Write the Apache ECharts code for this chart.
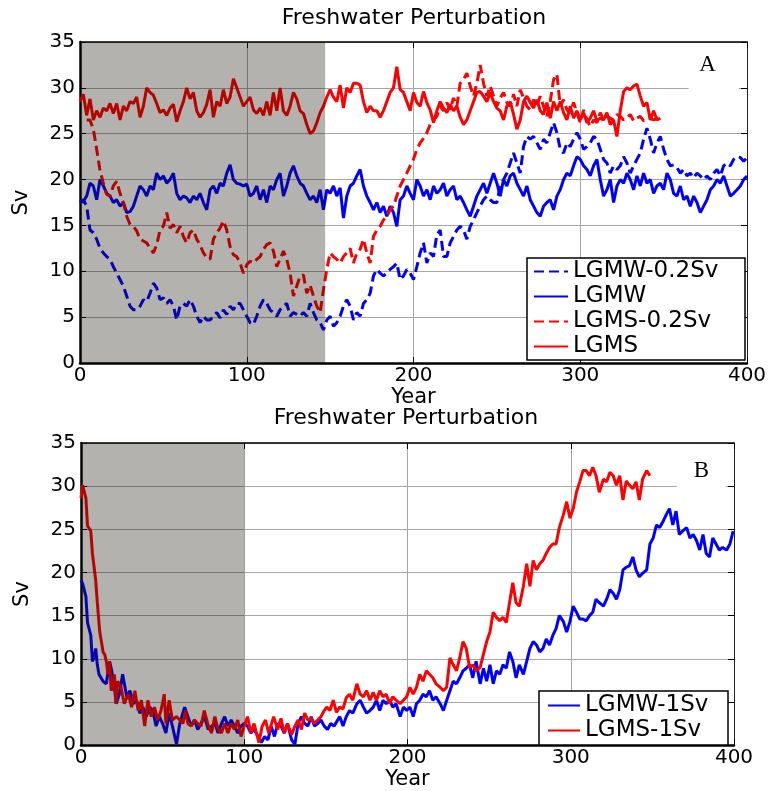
<!DOCTYPE html>
<html>
<head>
<meta charset="utf-8">
<script src="https://cdn.jsdelivr.net/npm/echarts@6/dist/echarts.min.js"></script>
<style>
  html, body { margin: 0; padding: 0; background: #fff; }
  #main-chart { width: 770px; height: 791px; }
</style>
</head>
<body>
<div id="main-chart"></div>
<script>
// axis ticks
const xTicks = [0, 100, 200, 300, 400]
const yTicks = [0, 5, 10, 15, 20, 25, 30, 35]

// panel A: samples every 2 years, starting at the given year
const A_STEP = 2
const lgmw02Start = 0
const lgmw02 = [
  17.5, 17.8, 17.1, 14.5, 14.2, 13.5, 12.5, 12, 11.6, 11.3,
  10.5, 9.8, 9.1, 8.4, 7.3, 6.2, 5.8, 5.8, 6.2, 6.9,
  6.7, 7.6, 8.7, 8.2, 6.9, 7.1, 6.5, 6.9, 6.2, 4.7,
  6.2, 6.5, 6.2, 6.9, 6.2, 5.1, 4.4, 5.1, 4.7, 4.7,
  5.1, 5.5, 4.9, 5.8, 5.3, 6.2, 5.8, 6.5, 6.5, 5.8,
  5.1, 4.4, 4.2, 5.1, 6.2, 6.9, 6.5, 5.8, 5.5, 5.1,
  5.8, 6.2, 6.5, 5.1, 5.5, 5.3, 5.1, 5.5, 5.1, 6.5,
  5.5, 4.7,
  4.4, 3.6, 4.7, 5.1, 4, 4.4, 5.1, 6.2, 6.9, 6.2,
  4.7, 5.5, 5.1, 6.5, 6.9, 7.6, 9.5, 10.2, 9.8, 9.5,
  9.8, 10.2, 10.5, 10.9, 9.1, 9.5, 10.2, 9.8, 9.1, 10.5,
  12, 13.1, 10.9, 12, 11.6, 14, 14.5, 11.6, 11.6, 13.1,
  13.8, 14.5, 14.9, 14.5, 13.5, 14.9, 15.6, 16.4, 17.1, 17.8,
  18.2, 17.8, 17.5, 17.5, 19.3, 20, 20.7, 21.8, 22.9, 21.8,
  20.7, 23.6, 24.7, 24.4, 24.7, 24, 23.3, 24.4, 24, 25.1,
  26.2, 25.1, 23.3, 22.9, 24, 23.6, 24.4, 25.1, 24.4, 23.3,
  23.6, 24, 24.7, 24.4, 23.3, 22.2, 21.8, 20.7, 21.5, 21.1,
  21.5, 22.5, 21.8, 20.7, 21.5, 22.2, 22.9, 24.4, 25.6, 24.4,
  22.9, 24, 24.7, 23.3, 22.2, 21.5, 21.6, 21.3, 20.7, 21.1,
  20.4, 20.7, 20.2, 20.7, 20.4, 20, 20.4, 20, 20.7, 21.1,
  20.4, 21.5, 21.8, 21.5, 22.2, 22.5, 22.4, 22, 22.4
]
const lgmwStart = 0
const lgmw = [
  17.5, 17.6, 18.2, 19.6, 19.3, 17.8, 20, 19.3, 18.5, 18.2,
  17.5, 17.8, 17.1, 17.5, 16.4, 16.5, 17.1, 18.2, 19.3, 18.9,
  18.2, 19.3, 18.9, 20.7, 20, 20.4, 19.6, 20, 20.7, 18.5,
  17.8, 18.2, 18, 17.5, 18.2, 17.8, 18.5, 17.5, 16.7, 18.9,
  19.3, 18.5, 19.6, 19.3, 20.7, 21.6, 20, 19.6, 19.5, 19.3,
  19.5, 18.2, 18.5, 19.3, 17.8, 18.9, 17.5, 19.3, 18.9, 20,
  20.7, 18.2, 19.3, 20.7, 21.5, 20.4, 19.6, 19.3, 18.5, 17.8,
  18.2, 17.5,
  18.9, 16.7, 18.9, 18.5, 19.3, 18.2, 19.1, 15.8, 18.2, 19.3,
  19.6, 20.4, 21.1, 19.3, 18.2, 17.5, 16.7, 17.5, 16.4, 17.1,
  16, 17.1, 16.4, 14.9, 17.8, 18.2, 19.3, 18.5, 17.8, 20,
  19.3, 18.2, 18.9, 17.8, 19.3, 18.5, 18.9, 19.6, 18.2, 18.9,
  19.3, 17.8, 18.2, 17.5, 16.7, 16, 17.1, 18.2, 18.9, 19.6,
  18.5, 19.6, 20.7, 19.6, 18.2, 20, 19.3, 20.4, 20.7, 19.6,
  18.9, 18.2, 19.3, 17.8, 17.1, 16.4, 16, 17.1, 17.5, 17.8,
  16.7, 18.2, 18.9, 20, 20.7, 20.4, 21.5, 22.5, 22.2, 21.5,
  21.1, 20.4, 21.5, 22.2, 20, 18.2, 18.9, 20, 17.5, 19.3,
  20, 19.6, 20.7, 20, 18.9, 20.4, 19.3, 20.7, 19.6, 20,
  18.5, 19.3, 19.6, 18.9, 20.7, 20, 18.5, 18.2, 19.3, 17.8,
  18.2, 17.1, 18.2, 17.5, 16.4, 17.1, 17.8, 18.9, 19.3, 20,
  19.6, 20.4, 19.3, 18.2, 18.5, 18.9, 19.3, 20, 20.4
]
const lgms02Start = 4
const lgms02 = [
  26.5, 26.5, 25.5, 23.3, 21, 19.6, 18.4, 18.2, 19.3, 19.8,
  18.5, 17.5, 16, 15.1, 14.9, 14.4, 13.5, 13.3, 13.1, 12.5,
  12, 12.9, 14.5, 14.9, 16.4, 14.7, 15.1, 14.2, 14.9, 13.8,
  13.1, 14.2, 14.5, 13.5, 12.9, 12, 11.5, 11.3, 13.5, 14.2,
  14.7, 15.5, 14.5, 12.7, 11.8, 11.6, 10.9, 9.8, 10.7, 11.1,
  10.9, 11.3, 11.6, 12.4, 12.9, 13.1, 12.2, 10.5, 11.3, 12.2,
  11.3, 9.8, 7.3, 8.4, 9.5, 9.6, 7.6, 8.5, 7.3, 6.2,
  5.5, 8, 10.2, 12, 11.6, 11.3, 10.9, 11.6, 12, 12.5,
  10.9, 12, 12.4, 13.5, 12, 10.9, 13.8, 14.5, 14.9, 15.6,
  16, 16.7, 17.1, 18.2, 19.3, 20, 20.7, 21.5, 22.2, 23.3,
  24, 24.5, 25.1, 26, 26.5, 26.9, 28, 27.5, 28.4, 27.6,
  28.9, 28, 30.5, 30.9, 31.6, 30.2, 29.1, 30.5, 32.5, 30.5,
  29.1, 30.2, 29.1, 28, 28.9, 29.5, 28.4, 28, 29.3, 28,
  29.8, 28.9, 28, 27.6, 28.7, 28, 29.1, 28, 26.9, 28.5,
  30.9, 31.5, 28, 28.7, 27.6, 27.3, 28.4, 27.3, 26.2, 27.6,
  26.5, 25.8, 26.5, 26.2, 27.3, 26.5, 26.9, 26.7, 26.5, 27.1,
  26.9, 26.5, 26.7, 27.1, 26.4, 26.7, 26.9, 26.4, 26.5, 26.7,
  26.5, 26.7, 26.7
]
const lgmsStart = 0
const lgms = [
  28.5, 29.3, 27, 28.8, 26.5, 27.5, 26.8, 27.8, 27.5, 28.3,
  27.2, 28.3, 26.5, 28, 27.5, 28.5, 28.3, 29, 26.8, 28,
  30, 29.5, 29.2, 28.3, 27.3, 27.6, 27, 27.8, 28.2, 26.3,
  27.5, 28.5, 30, 28.8, 29.5, 27.5, 26.8, 27.3, 28.2, 29.8,
  26.8, 28.5, 28, 29.8, 28.3, 29, 31, 30, 29, 28,
  28.5, 29, 27.6, 27.2, 27.8, 27, 28.5, 27, 29.5, 27.5,
  30, 27.5, 27, 28, 29.5, 28.8, 27.5, 27.2, 26, 25,
  25.3, 26.2,
  27.3, 28, 29, 29.8, 29, 28.5, 30.3, 27.8, 30, 29.5,
  30.5, 30.5, 30.3, 28.5, 27.3, 28, 27.5, 27.5, 26.8, 27.5,
  28.5, 29.5, 30, 32.3, 29.8, 29.5, 28.5, 27.5, 29.5, 28.4,
  28, 29.6, 28.4, 27.6, 26.2, 27.5, 28.5, 27.8, 27.3, 28.2,
  27.5, 28, 26.8, 26, 26.5, 27.5, 28.5, 29.5, 29.6, 29.1,
  28.5, 29.5, 28.5, 27.8, 27.5, 26.5, 28, 28.5, 27.1, 25.5,
  26.5, 28.5, 29.1, 28.4, 27.8, 28.7, 27.5, 27.1, 28.4, 26.7,
  28.5, 27.5, 28.5, 27.3, 26.5, 28, 26.7, 27.5, 26.5, 27.3,
  26.2, 26.7, 27.5, 26.4, 26.7, 26.5, 27.3, 26, 26.5, 24.7,
  27.5, 29.6, 30, 29.8, 30.2, 30.4, 29.1, 28, 28.4, 26.5,
  27.5, 26.5, 26.7
]

// panel B: [year, Sv]
const lgmw1 = [
  [0, 19.1], [1, 18.7], [3, 17.2], [4, 14.2], [6, 12.7], [7, 9.7], [8, 10.1], [9, 11.2],
  [10, 9.3], [11, 8.2], [12, 8.2], [13.5, 7.4], [15.5, 7.1], [17.5, 9.7], [18.5, 8.9],
  [20.5, 6.7], [21.5, 4.8], [23.5, 5.9], [25.5, 8.2], [28, 5.6], [30, 6.3], [32, 4.8],
  [34, 5.2], [36, 3.7], [38, 4.4], [40, 3.3], [42, 4.4], [44, 4], [46, 2.2], [48, 3.3],
  [50, 2.5], [52, 1.4], [54, 3.7], [56, 2.2], [58.5, 0.1], [60.5, 2.5], [63.5, 4.4],
  [65.5, 3.3], [67.5, 2.2], [69.5, 2.9], [71.5, 1.8], [73.5, 2.5], [75.5, 3.3], [78, 1.8],
  [80, 2.2], [82, 2.5], [84, 1.4], [86, 2.5], [88, 3.3], [90, 2.2], [92, 2.9], [94, 2.2],
  [96, 1.4], [98, 2.2], [100, 2.5], [102, 2.2], [104, 1.4], [106, 1.8], [108.5, 1.0],
  [110.5, 0.3], [112.5, 1.0], [114.5, 0.6], [116.5, 2.2], [118.5, 1.0], [120.5, 2.5],
  [122.5, 2.2], [124.5, 1.4], [126.5, 2.5], [129, 0.6], [131, 0.1], [133, 2.5], [135, 3.3],
  [137, 2.5], [139, 2.2], [141, 3.3], [143, 2.2], [145, 2.5], [147, 2.9], [149, 2.2],
  [151, 1.8], [153, 2.5], [155, 2.2], [158.5, 3.3], [160.5, 2.2], [162.5, 3.3], [164.5, 4.0],
  [166.5, 3.7], [169, 4.8], [171, 5.2], [173, 4.4], [175, 3.7], [177, 4.0], [179, 4.4],
  [181, 5.2], [183, 4.0], [185, 5.2], [187, 4.8], [189, 5.2], [191, 4.4], [193, 4.8],
  [195.5, 3.3], [197.5, 4.4], [199.5, 4.0], [201.5, 4.4], [203.5, 3.3], [205.5, 4.8],
  [207.5, 5.2], [209.5, 5.9], [211.5, 5.6], [213.5, 6.3], [215.5, 5.2], [217.5, 5.6],
  [220, 4.8], [222, 4.0], [224, 5.2], [226, 6.3], [228, 7.4], [230, 7.1], [232, 7.8],
  [234, 8.6], [236, 8.9], [238, 9.3], [240, 7.8], [242, 9.7], [244.5, 7.1], [246.5, 8.9],
  [248.5, 7.4], [250.5, 9.3], [252.5, 7.1], [254.5, 8.6], [256.5, 8.2], [258.5, 9.3],
  [260.5, 8.9], [262.5, 10.8], [264.5, 9.7], [266.5, 7.8], [268.5, 9.3], [271, 8.2],
  [273, 9.7], [275, 11.2], [277, 12.0], [279, 11.6], [281, 10.8], [283, 11.2], [285, 12.3],
  [287, 11.6], [289, 12.7], [291, 13.5], [293, 15.0], [295.5, 14.3], [297.5, 13.1],
  [299.5, 14.3], [301.5, 16.1], [303.5, 15.4], [305.5, 14.6], [307.5, 14.6], [309.5, 14.4],
  [311.5, 15.0], [313.5, 15.4], [315.5, 16.9], [317.5, 16.5], [320, 16.1], [322, 16.9],
  [324, 18.0], [326, 17.6], [328, 16.9], [330, 18.0], [332, 20.3], [334, 20.6], [336, 20.8],
  [338, 21.8], [340, 20.3], [342, 19.5], [344, 19.9], [346.5, 20.3], [348.5, 23.3],
  [350.5, 24.0], [352.5, 25.5], [354.5, 25.2], [356.5, 25.9], [358.5, 26.7], [360.5, 27.4],
  [362.5, 25.5], [364.5, 27.1], [366.5, 24.4], [368.5, 24.8], [371, 25.2], [373, 24.0],
  [375, 24.4], [377, 23.7], [379, 22.6], [381, 24.4], [383, 22.2], [385, 21.8], [387, 24.0],
  [389, 23.3], [391, 22.6], [393, 22.9], [395.5, 22.6], [397.5, 23.3], [399.5, 24.8]
]
const lgms1 = [
  [0, 28.6], [1, 30.1], [2, 30.1], [3, 28.6], [4, 25.4], [6, 24.8], [7, 22.2], [9, 19.1],
  [10, 16.5], [11.5, 13.1], [12.5, 12], [13.5, 10.8], [14.5, 10.5], [15.5, 9.7], [16.5, 8.2],
  [17.5, 9.7], [18.5, 6.3], [19.5, 6.7], [20.5, 8.2], [21.5, 4.8], [22.5, 7.4], [24.5, 6.7],
  [26.5, 4.8], [29, 5.9], [31, 4.4], [33, 6.3], [35, 4.0], [37, 5.2], [39, 2.2], [41, 5.2],
  [43, 3.3], [45, 4.4], [47, 2.9], [49, 4], [51, 5.9], [52, 2.5], [54, 5.2], [56, 2.9],
  [58.5, 3.3], [60.5, 2.9], [62.5, 2.5], [64, 4], [65.5, 2.5], [67.5, 2.2], [69.5, 2.9],
  [71.5, 2.5], [73.5, 2.2], [75.5, 4], [78, 2.2], [80, 1.4], [82, 3.3], [84, 1.8], [86, 1.4],
  [88, 2.5], [90, 1.4], [92, 2.5], [94, 1.8], [96, 2.9], [98, 1.0], [100, 2.2], [102, 3.3],
  [104, 1.4], [106, 2.5], [109, 0.3], [111, 2.2], [113, 2.9], [115, 1.4], [118, 3.3],
  [120.5, 1.8], [122.5, 3.1], [124.5, 1.4], [126.5, 2.5], [129, 1.2], [131, 2.2], [133, 2.9],
  [135, 1.8], [137, 3.7], [139, 2.9], [141, 3.1], [143, 2.5], [145, 2.9], [147, 3.3],
  [149, 4.0], [150.5, 4.4], [152.5, 4.0], [154.5, 5.2], [156.5, 3.8], [158.5, 4.4],
  [160.5, 4.2], [162.5, 5.5], [164.5, 5.9], [166.5, 5.2], [169, 7.1], [171, 5.9], [173, 5.6],
  [175, 6.3], [177, 5.2], [179, 6.1], [181, 5.2], [183, 6.3], [185, 5.6], [187, 5.9],
  [189, 4.8], [191, 5.6], [193, 5.2], [195.5, 4.8], [197.5, 5.2], [199.5, 5.6], [201.5, 6.7],
  [203.5, 5.9], [205.5, 6.7], [207.5, 8.2], [209.5, 7.4], [211.5, 8.6], [213.5, 8.2],
  [215.5, 7.8], [217.5, 7.1], [220, 6.7], [222, 6.3], [224, 6.7], [226, 10.1], [228, 9.3],
  [230, 8.6], [232, 10.1], [234, 12.0], [236, 11.2], [238, 9.0], [240, 9.3], [242, 8.6],
  [244.5, 9.0], [246.5, 10.5], [248.5, 12.0], [250.5, 13.1], [252.5, 15.4], [254.5, 14.8],
  [256.5, 14.4], [258.5, 14.8], [260.5, 14.2], [262.5, 16.5], [264.5, 18.8], [266.5, 16.5],
  [268.5, 16.1], [271, 18.4], [273, 21.0], [275, 18.4], [277, 21.4], [279, 20.3], [281, 21.0],
  [283, 21.4], [285, 22.2], [287, 22.9], [289, 23.3], [291, 23.3], [293, 25.2], [295.5, 26.7],
  [297.5, 28.2], [299.5, 26.3], [301.5, 27.4], [303.5, 29.3], [305.5, 30.5], [307.5, 31.8],
  [309.5, 31.8], [311.5, 31.2], [313.5, 32.2], [315.5, 31.2], [317.5, 29.3], [320, 30.8],
  [322, 30.5], [324, 31.6], [326, 31.2], [328, 30.1], [330, 31.2], [332, 28.4], [334, 30.6],
  [336, 30.1], [338, 29.7], [340, 30.5], [342, 28.4], [344, 30.8], [346.5, 31.8], [348.5, 31.2]
]

// perturbation periods (shaded)
const shadeA = [0, 147]
const shadeB = [0, 100]

const BLUE = '#0000ff'
const RED = '#ff0000'
const SHADE = 'rgba(21, 14, 2, 0.32)'
const FONT = 'DejaVu Sans'
const GRID_COLOR = '#a6a6a6'

function everyStep(start, values) {
  return values.map((v, i) => [start + i * A_STEP, v])
}

function axisPair(gridIndex) {
  const labelStyle = { fontFamily: FONT, fontSize: 20, color: '#000' }
  const nameStyle = { fontFamily: FONT, fontSize: 21, color: '#000' }
  const tick = { show: true, inside: true, length: 6, lineStyle: { color: '#000', width: 1 } }
  return {
    x: [
      {
        type: 'value', gridIndex, min: xTicks[0], max: xTicks[xTicks.length - 1], interval: 100,
        name: 'Year', nameLocation: 'middle', nameGap: 21, nameTextStyle: nameStyle,
        axisLine: { lineStyle: { color: '#000', width: 2.5 } },
        axisTick: tick,
        axisLabel: { ...labelStyle, margin: 3 },
        splitLine: { show: true, lineStyle: { color: GRID_COLOR, width: 1 } },
      },
      {
        type: 'value', gridIndex, position: 'top', min: 0, max: 400, interval: 100,
        axisLine: { onZero: false, lineStyle: { color: '#000', width: 1.5 } },
        axisTick: tick, axisLabel: { show: false }, splitLine: { show: false },
      },
    ],
    y: [
      {
        type: 'value', gridIndex, min: yTicks[0], max: yTicks[yTicks.length - 1], interval: 5,
        name: 'Sv', nameLocation: 'middle', nameGap: 48, nameTextStyle: nameStyle,
        axisLine: { show: true, lineStyle: { color: '#000', width: 2.5 } },
        axisTick: tick,
        axisLabel: { ...labelStyle, margin: 5 },
        splitLine: { show: true, lineStyle: { color: GRID_COLOR, width: 1 } },
      },
      {
        type: 'value', gridIndex, position: 'right', min: 0, max: 35, interval: 5,
        axisLine: { show: true, onZero: false, lineStyle: { color: '#222', width: 1 } },
        axisTick: tick, axisLabel: { show: false }, splitLine: { show: false },
      },
    ],
  }
}

function lineSeries(name, data, color, dashed, axisIndex) {
  return {
    name, type: 'line', data,
    xAxisIndex: axisIndex, yAxisIndex: axisIndex,
    symbol: 'none', showSymbol: false, silent: true,
    lineStyle: { color, width: 3, type: dashed ? [10, 5] : 'solid' },
    itemStyle: { color },
  }
}

function shadeSeries(axisIndex, shade) {
  return {
    type: 'line', data: [], silent: true,
    xAxisIndex: axisIndex, yAxisIndex: axisIndex,
    markArea: {
      silent: true,
      z: 10,
      itemStyle: { color: SHADE },
      data: [[{ xAxis: shade[0] }, { xAxis: shade[1] }]],
    },
  }
}

function letterSeries(axisIndex, letter, box, offset) {
  return {
    type: 'line', data: [], silent: true,
    xAxisIndex: axisIndex, yAxisIndex: axisIndex,
    markArea: {
      silent: true,
      z: 1,
      itemStyle: { color: '#fff' },
      label: {
        show: true, position: 'inside', offset,
        fontFamily: 'Liberation Serif', fontSize: 23, color: '#000',
      },
      data: [[{ name: letter, xAxis: box[0], yAxis: box[2] }, { xAxis: box[1], yAxis: box[3] }]],
    },
  }
}

const axesA = axisPair(0)
const axesB = axisPair(1)

const chart = echarts.init(document.getElementById('main-chart'), null, { renderer: 'canvas' })

const titleStyle = { fontFamily: FONT, fontSize: 22, fontWeight: 'normal', color: '#000' }
const legendText = { fontFamily: FONT, fontSize: 23, color: '#000', lineHeight: 25 }

chart.setOption({
  animation: false,
  backgroundColor: '#fff',
  title: [
    { text: 'Freshwater Perturbation', left: 414, top: 7, textAlign: 'center', padding: 0, textStyle: titleStyle },
    { text: 'Freshwater Perturbation', left: 406, top: 407, textAlign: 'center', padding: 0, textStyle: titleStyle },
  ],
  grid: [
    { left: 80, top: 42, width: 667, height: 321 },
    { left: 81, top: 443, width: 653, height: 309 },
  ],
  xAxis: [axesA.x[0], axesA.x[1], axesB.x[0], axesB.x[1]],
  yAxis: [axesA.y[0], axesA.y[1], axesB.y[0], axesB.y[1]],
  legend: [
    {
      orient: 'vertical', left: 527, top: 258,
      padding: [1, 4, 1, 6], itemGap: 0, itemWidth: 34, itemHeight: 14,
      backgroundColor: '#fff', borderColor: '#000', borderWidth: 1.5,
      itemStyle: { opacity: 0 },
      textStyle: { ...legendText, width: 168 },
      data: ['LGMW-0.2Sv', 'LGMW', 'LGMS-0.2Sv', 'LGMS'],
      selectedMode: false,
    },
    {
      orient: 'vertical', left: 539, top: 691,
      padding: [2, 6, 2, 8], itemGap: 0, itemWidth: 32, itemHeight: 14,
      backgroundColor: '#fff', borderColor: '#000', borderWidth: 1.5,
      itemStyle: { opacity: 0 },
      textStyle: { ...legendText, width: 137 },
      data: ['LGMW-1Sv', 'LGMS-1Sv'],
      selectedMode: false,
    },
  ],
  series: [
    lineSeries('LGMW-0.2Sv', everyStep(lgmw02Start, lgmw02), BLUE, true, 0),
    lineSeries('LGMW', everyStep(lgmwStart, lgmw), BLUE, false, 0),
    lineSeries('LGMS-0.2Sv', everyStep(lgms02Start, lgms02), RED, true, 0),
    lineSeries('LGMS', everyStep(lgmsStart, lgms), RED, false, 0),
    shadeSeries(0, shadeA),
    letterSeries(0, 'A', [365, 395, 29.5, 34.5], [-6, -5]),
    lineSeries('LGMW-1Sv', lgmw1, BLUE, false, 2),
    lineSeries('LGMS-1Sv', lgms1, RED, false, 2),
    shadeSeries(2, shadeB),
    letterSeries(2, 'B', [365, 395, 29.6, 34], [0, 0]),
  ],
})
</script>
</body>
</html>
